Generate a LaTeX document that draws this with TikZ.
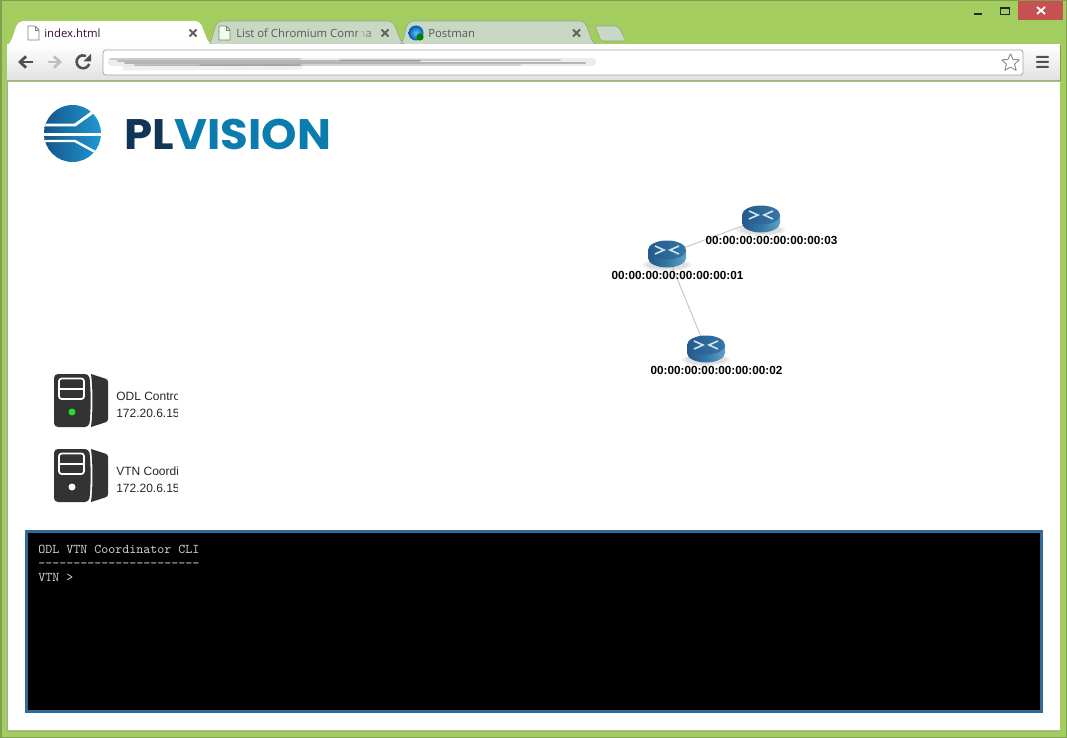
\documentclass[tikz,border=0pt]{standalone}
\usepackage{fontspec}
\setmainfont{Liberation Sans}
\newfontfamily\tabfont{Open Sans}
\newfontfamily\logofont{Poppins}
\usetikzlibrary{fadings,calc,arrows.meta}
\definecolor{chrome}{HTML}{A3CD5E}
\definecolor{chromeedge}{HTML}{7E9F50}
\definecolor{tabbg}{HTML}{C9D8C5}
\definecolor{tabedge}{HTML}{8FA38A}
\definecolor{ctrl}{HTML}{505050}
\definecolor{srv}{HTML}{333333}
\definecolor{termedge}{HTML}{33689B}
\definecolor{logodark}{HTML}{0F3557}
\definecolor{logoblue}{HTML}{0A7CAD}
\definecolor{logoleft}{HTML}{14568C}
\definecolor{logoright}{HTML}{2098D2}
\definecolor{rtop}{HTML}{2F6E9E}
\definecolor{rleft}{HTML}{24598A}
\definecolor{rright}{HTML}{5CA3C8}
\definecolor{closered}{HTML}{C75050}
\definecolor{tabink}{HTML}{3C0A32}
\definecolor{led}{HTML}{22E02A}
\definecolor{rmark}{HTML}{CFE3EE}
\tikzset{
  x=0.75pt,y=-0.75pt,
  tablabel/.style={anchor=base west,inner sep=0,font=\tabfont\fontsize{8.5}{10}\selectfont},
  tabx/.style={line width=1.5pt,ctrl!90!white},
  info/.style={anchor=base west,inner sep=0,font=\fontsize{9}{10}\selectfont,text=black!85},
  swlabel/.style={anchor=base,inner sep=0,font=\bfseries\fontsize{8.8}{10}\selectfont,text=black},
  term/.style={anchor=base west,inner sep=0,font=\ttfamily\fontsize{10}{10}\selectfont,text=black!18},
  link/.style={draw=black!22,line width=0.75pt},
  rnode/.style={minimum width=29pt,minimum height=20pt,inner sep=0},
  logotext/.style={anchor=base west,inner sep=0,xscale=1.057,font=\logofont\bfseries\fontsize{32}{34}\selectfont},
  blur/.style={line cap=round},
  pics/router/.style={code={
    \fill[black!30,opacity=.2] (0,11) ellipse [x radius=24,y radius=6];
    \fill[black!30,opacity=.25] (0,11) ellipse [x radius=21,y radius=4.5];
    \shade[left color=rleft,right color=rright,middle color=rtop!85!rright]
      (-19,-4) -- (-19,4) arc [start angle=180,end angle=0,x radius=19,y radius=9.5] -- (19,-4) -- cycle;
    \shade[left color=rleft!90!rtop,right color=rtop!85!rright] (0,-4) ellipse [x radius=19,y radius=9.5];
    \draw[rmark,line width=1.2pt] (-12,-8) -- (-3,-4) -- (-12,0) (12,-8) -- (3,-4) -- (12,0);
  }},
  pics/tower/.style={code={
    \fill[srv] (37,0) .. controls (39,15) and (39,38) .. (37,53) -- (51,48.5) .. controls (53,48) and (54,47) .. (54,45) -- (54,8) .. controls (54,6) and (53,5) .. (51,4.5) -- cycle;
    \fill[srv,rounded corners=3pt] (0,0) -- (35,0) .. controls (37,15) and (37,38) .. (35,53) -- (0,53) -- cycle;
    \draw[white,line width=1.3pt,rounded corners=2pt] (5,4.5) rectangle (30,25);
    \draw[white,line width=1.3pt] (5,15) -- (30,15);
    \fill[#1] (18,38) circle [radius=3.5];
  }},
  pics/docicon/.style={code={
    \draw[black!50,fill=#1,line width=.6pt] (0,0) -- (7,0) -- (11,4) -- (11,14) -- (0,14) -- cycle;
    \draw[black!50,line width=.5pt] (7,0) -- (7,4) -- (11,4);
  }},
}
\begin{document}
\begin{tikzpicture}
\useasboundingbox (0,0) rectangle (1067,738);
% window frame
\fill[chromeedge] (0,0) rectangle (1067,738);
\fill[chrome] (1.5,1.5) rectangle (1065.5,736.5);
% caption buttons
\fill[closered] (1018,1) rectangle (1063,20);
\draw[white,line width=1.4pt] (1037,7) -- (1045,14) (1045,7) -- (1037,14);
\fill[black!85] (974,13) rectangle (982,15.5);
\draw[black!85,line width=.7pt] (1000.5,8) rectangle (1009.5,14);
\fill[black!85] (1000,7.5) rectangle (1010,9.5);
% new tab button
\draw[tabedge,fill=tabbg,rounded corners=1.5pt] (595,26) -- (618,26) -- (626,41) -- (601,41) -- cycle;
% inactive tabs
\draw[tabedge,fill=tabbg,rounded corners=4pt] (398,45) -- (402,44) -- (408,21) -- (585,21) -- (593,44) -- (598,45) -- cycle;
\draw[tabedge,fill=tabbg,rounded corners=4pt] (207,45) -- (210,44) -- (217,21) -- (393,21) -- (402,44) -- (405,45) -- cycle;
% toolbar
\shade[top color=white,bottom color=black!12] (7,45) rectangle (1060,81);
\draw[black!35,line width=.75pt] (7,81) -- (1060,81);
\draw[chromeedge,line width=.5pt] (1060,45) -- (1060,81);
% active tab
\fill[white,rounded corners=4pt] (7,46) -- (11,42) -- (18,21) -- (200,21) -- (208,42) -- (212,46) -- cycle;
\fill[white] (7,44) rectangle (205,46);
% address bar
\draw[black!35,fill=white,rounded corners=2pt,line width=.6pt] (103,50) rectangle (1023,75);
% blurred address
\draw[blur,black!40,opacity=.18,line width=6.5pt] (112,62) -- (592,62);
\draw[blur,black!50,opacity=.12,line width=4pt] (125,68) -- (300,67);
\foreach \a/\b/\c/\o in {110/300/59/.18,118/420/61/.3,125/585/63/.32,135/300/65/.25,340/560/60/.2,200/520/65/.15}{
  \draw[blur,black!75,opacity=\o,line width=1.5pt] (\a,\c) -- (\b,\c);
}
% nav icons
\draw[ctrl,line width=2.1pt,-{Straight Barb[length=4.5pt,width=8.5pt]}] (33,62) -- (18,62);
\draw[black!25,line width=2.1pt,-{Straight Barb[length=4.5pt,width=8.5pt]}] (48,62) -- (62,62);
\draw[ctrl,line width=1.9pt] (89.2,64) arc [start angle=20,end angle=295,radius=6.5];
\fill[ctrl] (91,54) -- (91,61.5) -- (83.5,61.5) -- cycle;
% star
\draw[black!45,fill=white,line width=.7pt,rounded corners=.4pt] (1010.5,53.5) -- (1013,59.5) -- (1019.5,59.8) -- (1014.5,64) -- (1016.3,70.5) -- (1010.5,67) -- (1004.7,70.5) -- (1006.5,64) -- (1001.5,59.8) -- (1008,59.5) -- cycle;
% menu
\foreach \c in {57,62,67}{\fill[ctrl,rounded corners=.6pt] (1036,\c-1) rectangle (1049,\c+1);}
% tab contents
\pic at (28,26) {docicon=white};
\node[tablabel,text=tabink] (tab1) at (44,38) {index.html};
\draw[tabx] (189.5,29.5) -- (196.5,36.5) (196.5,29.5) -- (189.5,36.5);
\pic at (219,26) {docicon={green!8!white}};
\begin{scope}
\clip (230,22) rectangle (373,44);
\node[tablabel,text=black!65] (tab2) at (236,38) {List of Chromium Comma};
\fill[tabbg,path fading=east] (358,24) rectangle (373,42);
\end{scope}
\draw[tabx] (381.5,29.5) -- (388.5,36.5) (388.5,29.5) -- (381.5,36.5);
\shade[inner color=cyan!60!blue!60!white,outer color=blue!50!cyan!70!black] (416,33) circle [radius=7.5];
\fill[green!50!black] (420,37) circle [radius=3.6];
\node[tablabel,text=black!65] (tab3) at (428,38) {Postman};
\draw[tabx] (573,29.5) -- (580,36.5) (580,29.5) -- (573,36.5);
% page
\fill[white] (7,82) rectangle (1060,730);
\draw[black!35,line width=.6pt] (7.5,82) -- (7.5,731) -- (1060,731);
% logo
\begin{scope}
\clip (72.5,133.5) circle [radius=28.5];
\shade[left color=logoleft,right color=logoright] (44,105) rectangle (101,162);
\draw[white,line width=2.2pt] (40,125) -- (75,125) -- (93,112) -- (110,112);
\draw[white,line width=1.6pt] (40,134.5) -- (105,134.5);
\draw[white,line width=1.8pt] (40,141) -- (75,141) -- (97,153) -- (110,153);
\end{scope}
\node[logotext,text=logodark] (logopl) at (124,150) {PL};
\node[logotext,text=logoblue] (logovision) at (logopl.base east) {VISION};
% switches
\node[rnode] (r1) at (667,254) {};
\node[rnode] (r2) at (706,349) {};
\node[rnode] (r3) at (761,219) {};
\draw[link] (r1.center) -- (r3.center);
\draw[link] (r1.center) -- (r2.center);
\pic at (r1.center) {router};
\pic at (r2.center) {router};
\pic at (r3.center) {router};
\node[swlabel] (l1) at (677.5,279.5) {00:00:00:00:00:00:00:01};
\node[swlabel] (l2) at (716.5,374.5) {00:00:00:00:00:00:00:02};
\node[swlabel] (l3) at (771.5,244) {00:00:00:00:00:00:00:03};
% servers
\pic at (54,374) {tower=led};
\pic at (54,449) {tower=white};
\begin{scope}
\clip (110,380) rectangle (177.5,500);
\node[info] (s1a) at (116,400) {ODL Controller};
\node[info] (s1b) at (116,417) {172.20.6.15};
\node[info] (s2a) at (116,475) {VTN Coordinator};
\node[info] (s2b) at (116,492) {172.20.6.15};
\end{scope}
% terminal
\fill[termedge] (25,530) rectangle (1043,713);
\fill[black] (28,533) rectangle (1040,710);
\node[term] (t1) at (38,553.5) {ODL VTN Coordinator CLI};
\node[term] (t2) at (38,567.5) {-----------------------};
\node[term] (t3) at (38,581.5) {VTN >};
\end{tikzpicture}
\end{document}
